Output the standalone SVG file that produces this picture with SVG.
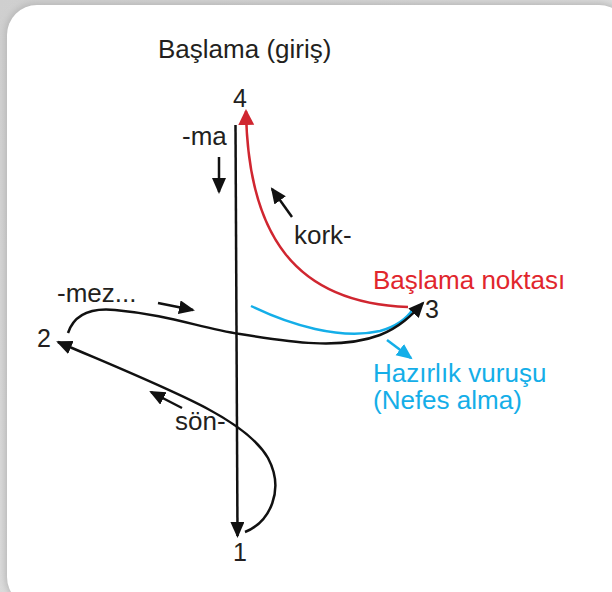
<svg xmlns="http://www.w3.org/2000/svg" width="612" height="592" viewBox="0 0 612 592">
  <style>
    .t { font-family: "Liberation Sans", Arial, sans-serif; font-size: 26px; fill: #231f20; }
    .n { font-size: 25px; }
    .red { fill: #e1262d; }
    .blue { fill: #14aee8; }
    .k { fill: none; stroke: #111; stroke-width: 2.5; }
    .r { fill: none; stroke: #d02630; stroke-width: 2.5; }
    .b { fill: none; stroke: #14aee8; stroke-width: 2.5; }
  </style>
  <defs>
    <marker id="ak" markerUnits="userSpaceOnUse" markerWidth="17" markerHeight="15" refX="14" refY="7" orient="auto">
      <path d="M0,0 L16,7 L0,14 z" fill="#111"/>
    </marker>
    <marker id="ar" markerUnits="userSpaceOnUse" markerWidth="17" markerHeight="17" refX="14" refY="8" orient="auto">
      <path d="M0,0 L16,8 L0,16 z" fill="#d02630"/>
    </marker>
    <marker id="ab" markerUnits="userSpaceOnUse" markerWidth="17" markerHeight="15" refX="14" refY="7" orient="auto">
      <path d="M0,0 L16,7 L0,14 z" fill="#14aee8"/>
    </marker>
    <linearGradient id="bg" x1="0" y1="0" x2="1" y2="1">
      <stop offset="0" stop-color="#cfcfcf"/>
      <stop offset="1" stop-color="#e6e6e6"/>
    </linearGradient>
    <filter id="sh" x="-10%" y="-10%" width="120%" height="120%">
      <feGaussianBlur stdDeviation="3"/>
    </filter>
  </defs>

  <rect x="0" y="0" width="612" height="592" fill="url(#bg)"/>
  <rect x="5" y="3" width="624" height="604" rx="31" fill="#b8b8b8" filter="url(#sh)"/>
  <rect x="7" y="5" width="622" height="602" rx="30" fill="#ffffff"/>

  <g id="title">
    <text class="t" x="158" y="58">Başlama (giriş)</text>
  </g>

  <g id="connectors">
    <!-- main vertical beat line 4 -> 1 -->
    <path class="k" d="M235.5,125 L237.5,536" marker-end="url(#ak)"/>
    <!-- red: 3 -> 4 -->
    <path class="r" d="M408,307 C295,303 248,235 246,111" marker-end="url(#ar)"/>
    <!-- blue preparatory beat -->
    <path class="b" d="M251,306 C290,325 340,340 380,331 C398,326 408,317 413,309"/>
    <!-- black: 2 -> 3 -->
    <path class="k" d="M68,333 C75,312 95,308 115,310 C170,315 200,328 240,334 C290,342 340,350 380,335 C400,327 412,315 423,303" marker-end="url(#ak)"/>
    <!-- black: 1 -> 2 -->
    <path class="k" d="M245,532 C270,522 285,490 268,458 C245,418 170,390 58,342" marker-end="url(#ak)"/>
    <!-- small direction arrows -->
    <line class="k" x1="219" y1="157" x2="219" y2="192" stroke-width="2.2" marker-end="url(#ak)"/>
    <line class="k" x1="292" y1="217" x2="272" y2="189" stroke-width="2.2" marker-end="url(#ak)"/>
    <line class="k" x1="158" y1="303" x2="193" y2="310" stroke-width="2.2" marker-end="url(#ak)"/>
    <line class="k" x1="182" y1="408" x2="151" y2="392" stroke-width="2.2" marker-end="url(#ak)"/>
    <line class="b" x1="387" y1="340" x2="411" y2="358" stroke-width="2.2" marker-end="url(#ab)"/>
  </g>

  <g id="n4"><text class="t n" x="240" y="107" text-anchor="middle">4</text></g>
  <g id="n3"><text class="t n" x="425" y="318">3</text></g>
  <g id="n2"><text class="t n" x="37" y="347">2</text></g>
  <g id="n1"><text class="t n" x="240" y="561" text-anchor="middle">1</text></g>

  <g id="labels">
    <text class="t" x="182" y="145">-ma</text>
    <text class="t" x="294" y="244">kork-</text>
    <text class="t" x="57" y="302">-mez...</text>
    <text class="t" x="175" y="430">sön-</text>
    <text class="t red" x="373" y="289">Başlama noktası</text>
    <text class="t blue" x="373" y="382">Hazırlık vuruşu</text>
    <text class="t blue" x="373" y="409">(Nefes alma)</text>
  </g>
</svg>
